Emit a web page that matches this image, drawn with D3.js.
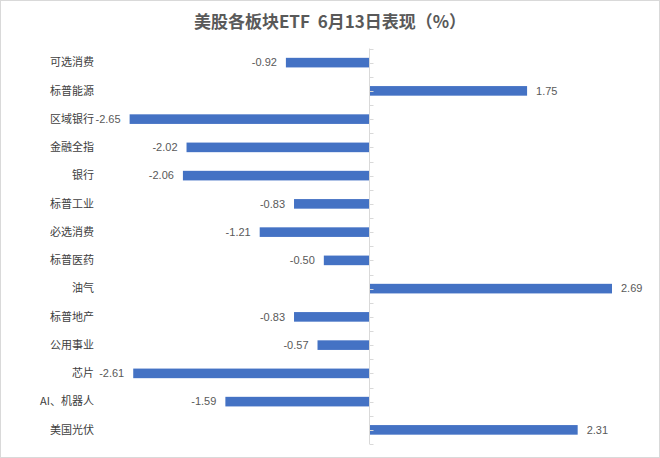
<!DOCTYPE html>
<html>
<head>
<meta charset="utf-8">
<script src="https://cdn.jsdelivr.net/npm/d3@7"></script>
<style>
  body { margin: 0; background: #fff; }
</style>
</head>
<body>
<svg id="chart"></svg>
<script>
const title = "美股各板块ETF\u00a0 6月13日表现（%）";
const categories = ["可选消费", "标普能源", "区域银行", "金融全指", "银行", "标普工业", "必选消费",
  "标普医药", "油气", "标普地产", "公用事业", "芯片", "AI、机器人", "美国光伏"];
const values = [-0.92, 1.75, -2.65, -2.02, -2.06, -0.83, -1.21, -0.50, 2.69, -0.83, -0.57, -2.61, -1.59, 2.31];
const xDomain = [-3, 3];

const width = 660, height = 458;
const cjk = "'Noto Sans CJK SC', 'Microsoft YaHei', sans-serif";
const num = "'Liberation Sans Narrow', 'Liberation Sans', Arial, sans-serif";

const svg = d3.select("#chart")
  .attr("width", width)
  .attr("height", height);

// chart area border
svg.append("rect")
  .attr("x", 0.5).attr("y", 0.5)
  .attr("width", width - 1).attr("height", height - 1)
  .attr("fill", "#fff")
  .attr("stroke", "#d9d9d9");

svg.append("text")
  .attr("x", 330)
  .attr("y", 28)
  .attr("text-anchor", "middle")
  .style("font-family", cjk)
  .style("font-size", "17px")
  .style("font-weight", "600")
  .style("fill", "#595959")
  .text(title);

const data = categories.map((c, i) => ({ name: c, value: values[i] }));

const x = d3.scaleLinear().domain(xDomain).range([98, 640]);

const y = d3.scaleBand()
  .domain(categories)
  .range([48.5, 444])
  .paddingInner(0.66)
  .paddingOuter(0.33);

const rows = d3.scaleBand().domain(categories).range([48.5, 444]);

// bars
svg.append("g")
  .selectAll("rect")
  .data(data)
  .join("rect")
  .attr("x", d => x(Math.min(0, d.value)))
  .attr("y", d => y(d.name))
  .attr("width", d => Math.abs(x(d.value) - x(0)))
  .attr("height", y.bandwidth())
  .attr("fill", "#4472c4");

// vertical category axis at zero
const x0 = Math.round(x(0)) + 0.5;
const axisG = svg.append("g");
axisG.append("line")
  .attr("x1", x0).attr("x2", x0)
  .attr("y1", 48.5).attr("y2", 444)
  .attr("stroke", "#d9d9d9");

const tickYs = [];
categories.forEach(c => {
  tickYs.push(rows(c));
  tickYs.push(rows(c) + rows.bandwidth() / 2);
});
tickYs.push(444);
axisG.selectAll("line.tick")
  .data(tickYs)
  .join("line")
  .attr("class", "tick")
  .attr("x1", x0).attr("x2", x0 + 4)
  .attr("y1", d => Math.round(d) + 0.5)
  .attr("y2", d => Math.round(d) + 0.5)
  .attr("stroke", "#d9d9d9");

// category labels
svg.append("g")
  .selectAll("text")
  .data(data)
  .join("text")
  .attr("x", 94)
  .attr("y", d => y(d.name) + y.bandwidth() / 2)
  .attr("dy", "0.35em")
  .attr("text-anchor", "end")
  .style("font-family", cjk)
  .style("font-size", "11px")
  .style("fill", "#404040")
  .text(d => d.name);

// value labels
svg.append("g")
  .selectAll("text")
  .data(data)
  .join("text")
  .attr("x", d => d.value < 0 ? x(d.value) - 9 : x(d.value) + 9)
  .attr("y", d => y(d.name) + y.bandwidth() / 2)
  .attr("dy", "0.35em")
  .attr("text-anchor", d => d.value < 0 ? "end" : "start")
  .style("font-family", num)
  .style("font-size", "11px")
  .style("fill", "#595959")
  .text(d => d.value.toFixed(2));
</script>
</body>
</html>
